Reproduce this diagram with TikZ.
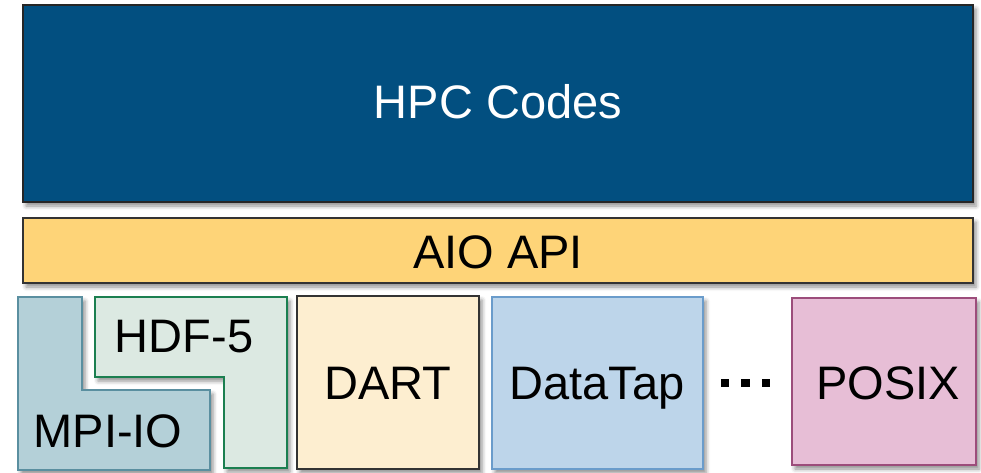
\documentclass[tikz,border=0pt]{standalone}
\usepackage{fontspec}
\setmainfont{Liberation Sans}
\usetikzlibrary{shadows.blur}

\definecolor{hpcblue}{HTML}{024F80}
\definecolor{aioyellow}{HTML}{FED478}
\definecolor{mpifill}{HTML}{B4D0D8}
\definecolor{mpiline}{HTML}{5A8FA0}
\definecolor{hdffill}{HTML}{DCE9E2}
\definecolor{hdfline}{HTML}{1B7F50}
\definecolor{dartfill}{HTML}{FDEED0}
\definecolor{tapfill}{HTML}{BDD5EA}
\definecolor{tapline}{HTML}{6A9CCB}
\definecolor{posixfill}{HTML}{E7BED6}
\definecolor{posixline}{HTML}{9C4D7B}

\tikzset{
  layer/.style={line width=1.2pt, blur shadow={shadow xshift=3pt, shadow yshift=-4pt, shadow blur radius=4pt, shadow opacity=45}},
  label/.style={font=\fontsize{47}{56}\selectfont, anchor=base, inner sep=0pt},
  dotmark/.style={fill=black, minimum size=8.5pt, inner sep=0pt}
}

\begin{document}
\begin{tikzpicture}[x=1pt, y=-1pt]
\useasboundingbox (0,0) rectangle (981,472);

% top layer: applications
\draw[layer, draw=black!85, fill=hpcblue] (23,5) rectangle (973,202);
\node[label, text=white] (hpc) at (498,118) {HPC Codes};

% middle layer: API
\draw[layer, draw=black!80, fill=aioyellow] (23,218) rectangle (973,283);
\node[label] (aio) at (498,268) {AIO API};

% transport methods
\draw[layer, draw=mpiline, fill=mpifill]
  (18,297) -- (82,297) -- (82,390) -- (210,390) -- (210,470) -- (18,470) -- cycle;
\node[label] (mpi) at (108,447) {MPI-IO};

\draw[layer, draw=hdfline, fill=hdffill]
  (95,297) -- (287,297) -- (287,468) -- (224,468) -- (224,377) -- (95,377) -- cycle;
\node[label] (hdf) at (184,352) {HDF-5};

\draw[layer, draw=black!80, fill=dartfill] (297,296) rectangle (479,469);
\node[label] (dart) at (388,399) {DART};

\draw[layer, draw=tapline, fill=tapfill] (492,297) rectangle (703,469);
\node[label] (tap) at (597,399) {DataTap};

\node[dotmark] (d1) at (725,383) {};
\node[dotmark] (d2) at (745.5,383) {};
\node[dotmark] (d3) at (766,383) {};

\draw[layer, draw=posixline, fill=posixfill] (792,298) rectangle (976,465);
\node[label] (posix) at (888,399) {POSIX};
\end{tikzpicture}
\end{document}
